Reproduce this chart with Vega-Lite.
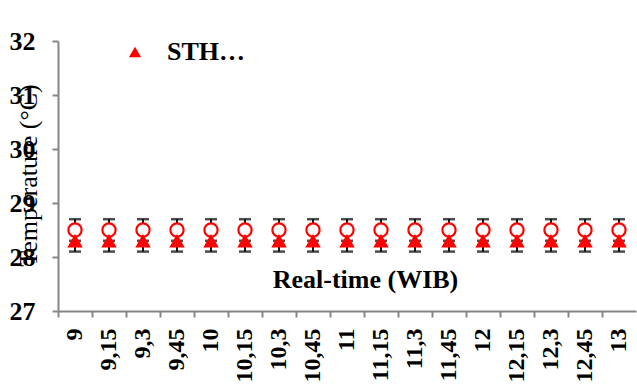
{
  "$schema": "https://vega.github.io/schema/vega-lite/v6.json",
  "width": 578,
  "height": 270,
  "autosize": {"type": "none"},
  "padding": {"left": 58, "top": 41, "right": 1, "bottom": 81},
  "background": "white",
  "config": {
    "font": "Liberation Serif, Times New Roman, serif",
    "view": {"stroke": null},
    "axis": {"grid": false, "domainColor": "#868686", "domainWidth": 2, "tickColor": "#868686", "tickWidth": 2, "labelColor": "black", "titleColor": "black", "labelFont": "Liberation Serif, Times New Roman, serif", "titleFont": "Liberation Serif, Times New Roman, serif", "titleLimit": 0},
    "legend": {"labelFont": "Liberation Serif, Times New Roman, serif", "titleFont": "Liberation Serif, Times New Roman, serif"}
  },
  "data": {
    "values": [
      {"t": "9", "sth": 28.3, "sthErr": 0.2, "ref": 28.5, "refErr": 0.2},
      {"t": "9,15", "sth": 28.3, "sthErr": 0.2, "ref": 28.5, "refErr": 0.2},
      {"t": "9,3", "sth": 28.3, "sthErr": 0.2, "ref": 28.5, "refErr": 0.2},
      {"t": "9,45", "sth": 28.3, "sthErr": 0.2, "ref": 28.5, "refErr": 0.2},
      {"t": "10", "sth": 28.3, "sthErr": 0.2, "ref": 28.5, "refErr": 0.2},
      {"t": "10,15", "sth": 28.3, "sthErr": 0.2, "ref": 28.5, "refErr": 0.2},
      {"t": "10,3", "sth": 28.3, "sthErr": 0.2, "ref": 28.5, "refErr": 0.2},
      {"t": "10,45", "sth": 28.3, "sthErr": 0.2, "ref": 28.5, "refErr": 0.2},
      {"t": "11", "sth": 28.3, "sthErr": 0.2, "ref": 28.5, "refErr": 0.2},
      {"t": "11,15", "sth": 28.3, "sthErr": 0.2, "ref": 28.5, "refErr": 0.2},
      {"t": "11,3", "sth": 28.3, "sthErr": 0.2, "ref": 28.5, "refErr": 0.2},
      {"t": "11,45", "sth": 28.3, "sthErr": 0.2, "ref": 28.5, "refErr": 0.2},
      {"t": "12", "sth": 28.3, "sthErr": 0.2, "ref": 28.5, "refErr": 0.2},
      {"t": "12,15", "sth": 28.3, "sthErr": 0.2, "ref": 28.5, "refErr": 0.2},
      {"t": "12,3", "sth": 28.3, "sthErr": 0.2, "ref": 28.5, "refErr": 0.2},
      {"t": "12,45", "sth": 28.3, "sthErr": 0.2, "ref": 28.5, "refErr": 0.2},
      {"t": "13", "sth": 28.3, "sthErr": 0.2, "ref": 28.5, "refErr": 0.2}
    ]
  },
  "encoding": {
    "x": {
      "field": "t",
      "type": "ordinal",
      "sort": null,
      "scale": {"paddingInner": 0, "paddingOuter": 0},
      "axis": {
        "title": "Real-time (WIB)",
        "titleFontSize": 26,
        "titleFontWeight": "bold",
        "titleX": 307,
        "titleY": -32,
        "titleAlign": "center",
        "titleBaseline": "middle",
        "bandPosition": 0,
        "tickSize": 6,
        "labelAngle": 270,
        "labelAlign": "right",
        "labelBaseline": "middle",
        "labelFontSize": 24,
        "labelFontWeight": "bold",
        "labelPadding": 11,
        "labelOverlap": false,
        "labelBound": false
      }
    }
  },
  "layer": [
    {
      "mark": {"type": "errorbar", "ticks": {"color": "black", "size": 12, "thickness": 2.5}, "rule": {"color": "black", "strokeWidth": 1.8}},
      "encoding": {
        "y": {
          "field": "ref",
          "type": "quantitative",
          "title": "Temperature (°C)",
          "scale": {"domain": [27, 32], "nice": false, "zero": false},
          "axis": {
            "titleFontSize": 26,
            "titleFontWeight": "normal",
            "titleAngle": 270,
            "titleX": -30,
            "titleY": 134,
            "titleAlign": "center",
            "titleBaseline": "middle",
            "titleLimit": 0,
            "values": [27, 28, 29, 30, 31, 32],
            "tickSize": 6,
            "labelFontSize": 26,
            "labelFontWeight": "bold",
            "labelPadding": 17,
            "labelBound": false
          }
        },
        "yError": {"field": "refErr"}
      }
    },
    {
      "mark": {"type": "errorbar", "ticks": {"color": "black", "size": 12, "thickness": 2.5}, "rule": {"color": "black", "strokeWidth": 1.8}},
      "encoding": {
        "y": {"field": "sth", "type": "quantitative", "title": "Temperature (°C)"},
        "yError": {"field": "sthErr"}
      }
    },
    {
      "mark": {"type": "point", "shape": "circle", "filled": false, "fill": "white", "fillOpacity": 1, "stroke": "#ff0000", "strokeWidth": 2.2, "size": 175, "opacity": 1},
      "encoding": {
        "y": {"field": "ref", "type": "quantitative", "title": "Temperature (°C)"}
      }
    },
    {
      "mark": {"type": "point", "filled": true, "color": "#ff0000", "size": 240, "opacity": 1},
      "encoding": {
        "y": {"field": "sth", "type": "quantitative", "title": "Temperature (°C)"},
        "shape": {
          "datum": "STH…",
          "scale": {"range": ["triangle-up"]},
          "legend": {
            "title": null,
            "orient": "none",
            "legendX": 64,
            "legendY": -2,
            "padding": 0,
            "symbolSize": 150,
            "symbolFillColor": "#ff0000",
            "symbolStrokeWidth": 0,
            "symbolOpacity": 1,
            "labelFontSize": 26,
            "labelFontWeight": "bold",
            "labelColor": "black",
            "labelOffset": 19,
            "labelLimit": 0
          }
        }
      }
    }
  ]
}
